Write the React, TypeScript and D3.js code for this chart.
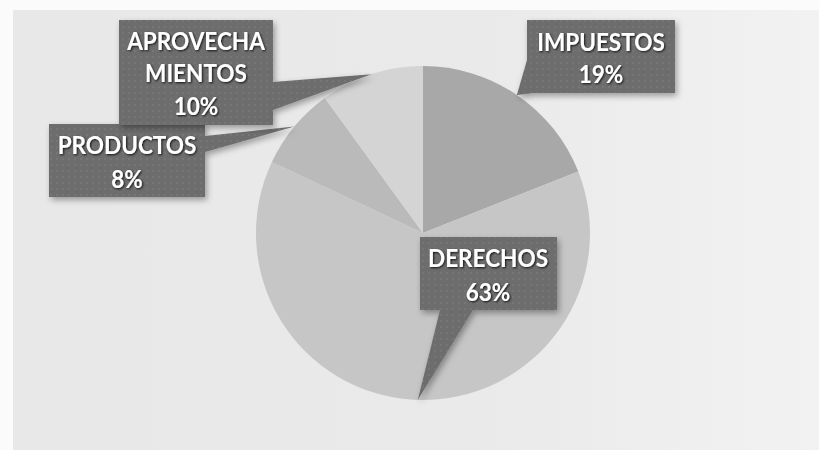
import React from "react";
import * as d3 from "d3";

const categories = ["IMPUESTOS", "DERECHOS", "PRODUCTOS", "APROVECHAMIENTOS"];
const values = [19, 63, 8, 10];
const labelLines = [["IMPUESTOS"], ["DERECHOS"], ["PRODUCTOS"], ["APROVECHA", "MIENTOS"]];
const sliceColors = ["#a8a8a8", "#c6c6c6", "#bababa", "#d4d4d4"];

// callout layout (box + pointer base points)
const callouts = [
  { x: 527, y: 20, w: 148, h: 73, base: [[527, 60], [534, 93]], cx: 601, lines: [42, 74] },
  { x: 420, y: 237, w: 137, h: 73, base: [[440, 310], [473, 310]], cx: 488, lines: [258, 292] },
  { x: 49, y: 124, w: 156, h: 73, base: [[205, 136], [205, 152]], cx: 127, lines: [145, 179] },
  { x: 119, y: 20, w: 154, h: 105, base: [[273, 82], [273, 110]], cx: 196, lines: [41, 73, 106] },
];

const W = 819;
const H = 450;
const CX = 423;
const CY = 233;
const R = 167;
const FS = 24.5;
const SX = 0.92;

export default function App() {
  const pie = d3.pie<number>().sort(null).value((d) => d)(values);
  const arc = d3.arc<d3.PieArcDatum<number>>().innerRadius(0).outerRadius(R);
  const edge = d3.arc<d3.PieArcDatum<number>>().innerRadius(R).outerRadius(R);
  const total = d3.sum(values);

  return (
    <svg width={W} height={H} style={{ position: "absolute", left: 0, top: 0 }}>
      <defs>
        <filter id="boxShadow" x="-20%" y="-20%" width="140%" height="140%">
          <feDropShadow dx="2" dy="3" stdDeviation="3" floodColor="#000" floodOpacity="0.35" />
        </filter>
        <filter id="txtShadow" x="-10%" y="-30%" width="120%" height="160%">
          <feDropShadow dx="1" dy="1" stdDeviation="0.8" floodColor="#000" floodOpacity="0.85" />
        </filter>
        <linearGradient id="bg" x1="0" y1="0" x2="1" y2="0">
          <stop offset="0" stopColor="#e8e8e8" />
          <stop offset="0.6" stopColor="#eaeaea" />
          <stop offset="1" stopColor="#f2f2f2" />
        </linearGradient>
        <pattern id="dots" width="6" height="6" patternUnits="userSpaceOnUse">
          <rect width="6" height="6" fill="#6d6d6d" />
          <circle cx="3" cy="3" r="1" fill="#797979" />
        </pattern>
      </defs>
      <rect x={0} y={0} width={W} height={H} fill="#fbfbfb" />
      <rect x={13} y={10} width={W - 13} height={H - 10} fill="url(#bg)" />
      <g transform={`translate(${CX},${CY})`}>
        {pie.map((d, i) => (
          <path key={categories[i]} d={arc(d) || ""} fill={sliceColors[i]} />
        ))}
      </g>
      {pie.map((d, i) => {
        const c = callouts[i];
        const [tx, ty] = edge.centroid(d);
        const tip = [CX + tx, CY + ty];
        const pct = Math.round((values[i] / total) * 100) + "%";
        const lines = [...labelLines[i], pct];
        const pts = [c.base[0], tip, c.base[1]].map((p) => p.join(",")).join(" ");
        return (
          <g key={categories[i]}>
            <g filter="url(#boxShadow)">
              <rect x={c.x} y={c.y} width={c.w} height={c.h} fill="url(#dots)" />
              <polygon points={pts} fill="url(#dots)" />
            </g>
            <g filter="url(#txtShadow)">
              {lines.map((t, j) => (
                <g key={j} transform={`translate(${c.cx},${c.lines[j] + FS * 0.36}) scale(${SX},1)`}>
                  <text
                    x={0}
                    y={0}
                    textAnchor="middle"
                    fontFamily="Lato, 'Open Sans', sans-serif"
                    fontWeight="bold"
                    fontSize={FS}
                    fill="#ffffff"
                  >
                    {t}
                  </text>
                </g>
              ))}
            </g>
          </g>
        );
      })}
    </svg>
  );
}
